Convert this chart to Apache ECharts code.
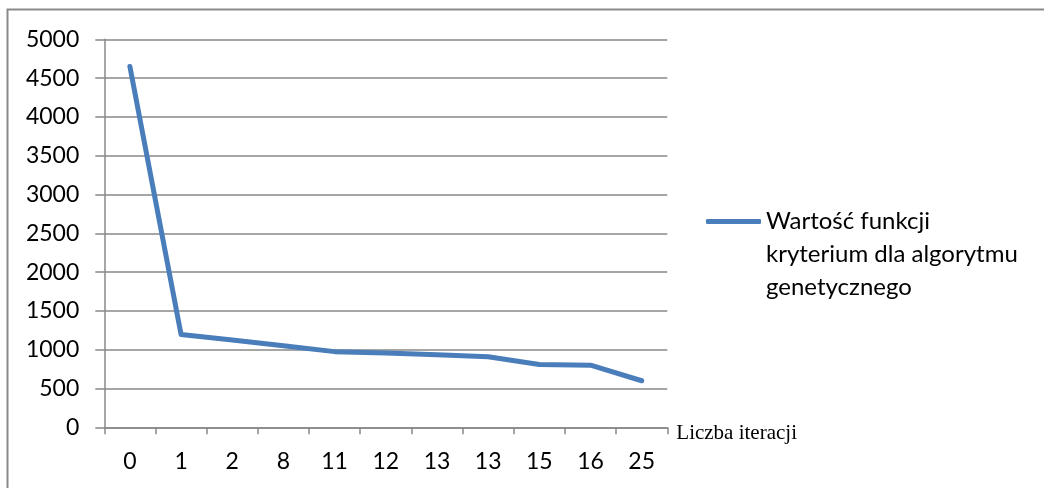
<!DOCTYPE html>
<html>
<head>
<meta charset="utf-8">
<script src="https://cdn.jsdelivr.net/npm/echarts@6/dist/echarts.min.js"></script>
<style>
  html, body { margin: 0; padding: 0; background: #fff; }
  #chart { width: 1044px; height: 488px; }
</style>
</head>
<body>
<div id="chart"></div>
<script>
// Iteration labels on the x axis (as reported by the run, "13" appears twice)
const iterations = ['0', '1', '2', '8', '11', '12', '13', '13', '15', '16', '25'];
// Criterion function value at each recorded iteration
const criterionValues = [4650, 1195, 1125, 1050, 975, 957, 935, 910, 810, 800, 600];
// Value axis range and step
const yMin = 0;
const yMax = 5000;
const yStep = 500;

const seriesName = 'Wartość funkcji\nkryterium dla algorytmu\ngenetycznego';
const axisName = 'Liczba iteracji';

const gridColor = '#888888';
const lineColor = '#4a7ebb';
const labelFont = 'Lato, "Open Sans", sans-serif';

const chart = echarts.init(document.getElementById('chart'), null, { renderer: 'canvas' });

chart.setOption({
  animation: false,
  backgroundColor: '#ffffff',
  graphic: [{
    type: 'rect',
    shape: { x: 7.5, y: 9.5, width: 1200, height: 700 },
    style: { fill: 'none', stroke: '#8a8a8a', lineWidth: 2 },
    silent: true
  }],
  grid: { left: 104.3, right: 376.7, top: 39.3, bottom: 60.7, containLabel: false },
  legend: {
    left: 706,
    top: 139,
    padding: 0,
    itemWidth: 55,
    itemHeight: 5,
    icon: 'roundRect',
    selectedMode: false,
    data: [{ name: seriesName, itemStyle: { color: lineColor } }],
    // two blank lines above keep the marker level with the first text line
    formatter: name => '\n\n' + name,
    textStyle: {
      fontFamily: labelFont,
      fontSize: 24,
      color: '#000',
      lineHeight: 33
    }
  },
  xAxis: {
    type: 'category',
    data: iterations,
    boundaryGap: true,
    name: axisName,
    nameLocation: 'end',
    nameGap: 9,
    nameTextStyle: {
      fontFamily: '"Liberation Serif", "Times New Roman", serif',
      fontSize: 21,
      color: '#000',
      verticalAlign: 'top',
      lineHeight: 12
    },
    axisLine: { show: true, lineStyle: { color: gridColor, width: 1.5 } },
    axisTick: { show: true, alignWithLabel: false, length: 7, lineStyle: { color: gridColor, width: 1.5 } },
    axisLabel: { fontFamily: labelFont, fontSize: 23, color: '#000', margin: 23 },
    splitLine: { show: false }
  },
  yAxis: {
    type: 'value',
    min: yMin,
    max: yMax,
    interval: yStep,
    axisLine: { show: true, lineStyle: { color: gridColor, width: 1.5 } },
    axisTick: { show: true, length: 9, lineStyle: { color: gridColor, width: 1.5 } },
    axisLabel: {
      fontFamily: labelFont, fontSize: 23, color: '#000', margin: 25,
      formatter: v => String(v)
    },
    splitLine: { show: true, lineStyle: { color: gridColor, width: 1.5 } }
  },
  series: [{
    name: seriesName,
    type: 'line',
    data: criterionValues,
    symbol: 'none',
    smooth: false,
    lineStyle: { color: lineColor, width: 5, cap: 'round', join: 'round' },
    itemStyle: { color: lineColor },
    emphasis: { disabled: true }
  }]
});
</script>
</body>
</html>
